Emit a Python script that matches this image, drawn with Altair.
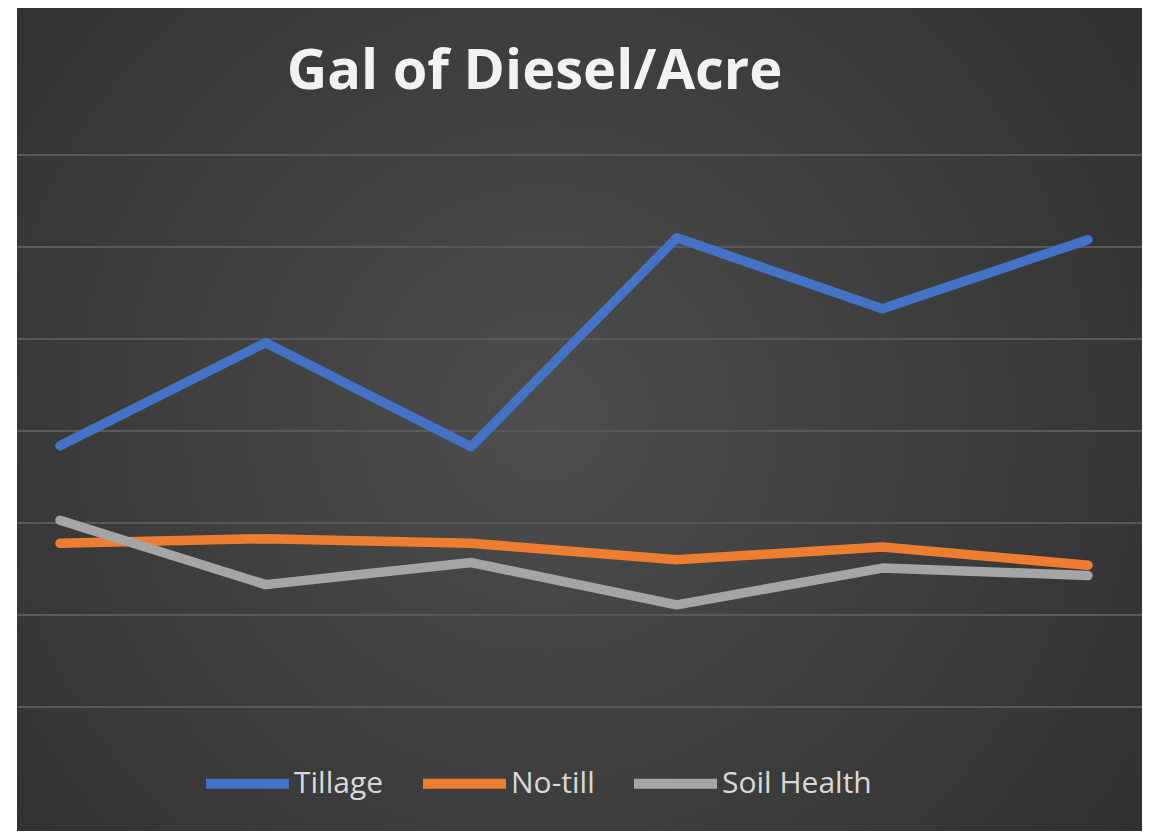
import altair as alt
import pandas as pd

periods = [1, 2, 3, 4, 5, 6]
tillage = [2.84, 3.96, 2.83, 5.10, 4.33, 5.08]
no_till = [1.78, 1.83, 1.78, 1.60, 1.74, 1.54]
soil_health = [2.03, 1.33, 1.57, 1.11, 1.51, 1.43]
series_names = ["Tillage", "No-till", "Soil Health"]
series_colors = ["#4472c4", "#ed7d31", "#a5a5a5"]
grid_values = [0, 1, 2, 3, 4, 5, 6]

rows = []
for name, vals in zip(series_names, [tillage, no_till, soil_health]):
    for p, v in zip(periods, vals):
        rows.append({"period": p, "value": v, "series": name})
df = pd.DataFrame(rows)
grid_df = pd.DataFrame({"value": grid_values})

W, H = 1125, 823
x_scale = alt.Scale(domain=[0.791, 6.2626], nice=False, zero=False)
y_scale = alt.Scale(domain=[-1.348, 7.598], nice=False, zero=False)

bg_grad = alt.Gradient(
    gradient="radial",
    stops=[alt.GradientStop(color="#4d4d4d", offset=0),
           alt.GradientStop(color="#2a2a2a", offset=1)],
    x1=0.47, y1=0.5, r1=0, x2=0.47, y2=0.5, r2=0.78,
)

background = alt.Chart(pd.DataFrame({"k": [0]})).mark_rect(
    fill=bg_grad, strokeWidth=0
).encode(
    x=alt.value(0), x2=alt.value(W), y=alt.value(0), y2=alt.value(H)
)

grid = alt.Chart(grid_df).mark_rule(color="#595959", strokeWidth=2).encode(
    y=alt.Y("value:Q", scale=y_scale, axis=None)
)

lines = alt.Chart(df).mark_line(
    strokeWidth=9.5, strokeCap="round", strokeJoin="round"
).encode(
    x=alt.X("period:Q", axis=None, scale=x_scale),
    y=alt.Y("value:Q", scale=y_scale, axis=None),
    color=alt.Color("series:N",
                    scale=alt.Scale(domain=series_names, range=series_colors),
                    legend=alt.Legend(
                        title=None, orient="none", direction="horizontal",
                        legendX=184, legendY=729,
                        symbolType="stroke", symbolSize=6889,
                        symbolStrokeWidth=10,
                        labelFont="Open Sans", labelFontSize=30,
                        labelColor="#d9d9d9", labelOffset=0,
                        columnPadding=19, labelLimit=400,
                    )),
)

chart = alt.layer(background, grid, lines).properties(
    width=W, height=H,
    title=alt.TitleParams(
        "Gal of Diesel/Acre", orient="top", anchor="middle", frame="group",
        font="Open Sans", fontSize=56, fontWeight="bold", color="#f2f2f2",
        baseline="alphabetic", offset=-137, dx=-45,
    ),
    autosize=alt.AutoSizeParams(type="none"),
    padding={"left": 9, "top": 0, "right": 0, "bottom": 0},
).configure_view(
    stroke=None
).configure(background="white")

chart.save("out.html", embed_options={"renderer": "svg", "actions": False})
